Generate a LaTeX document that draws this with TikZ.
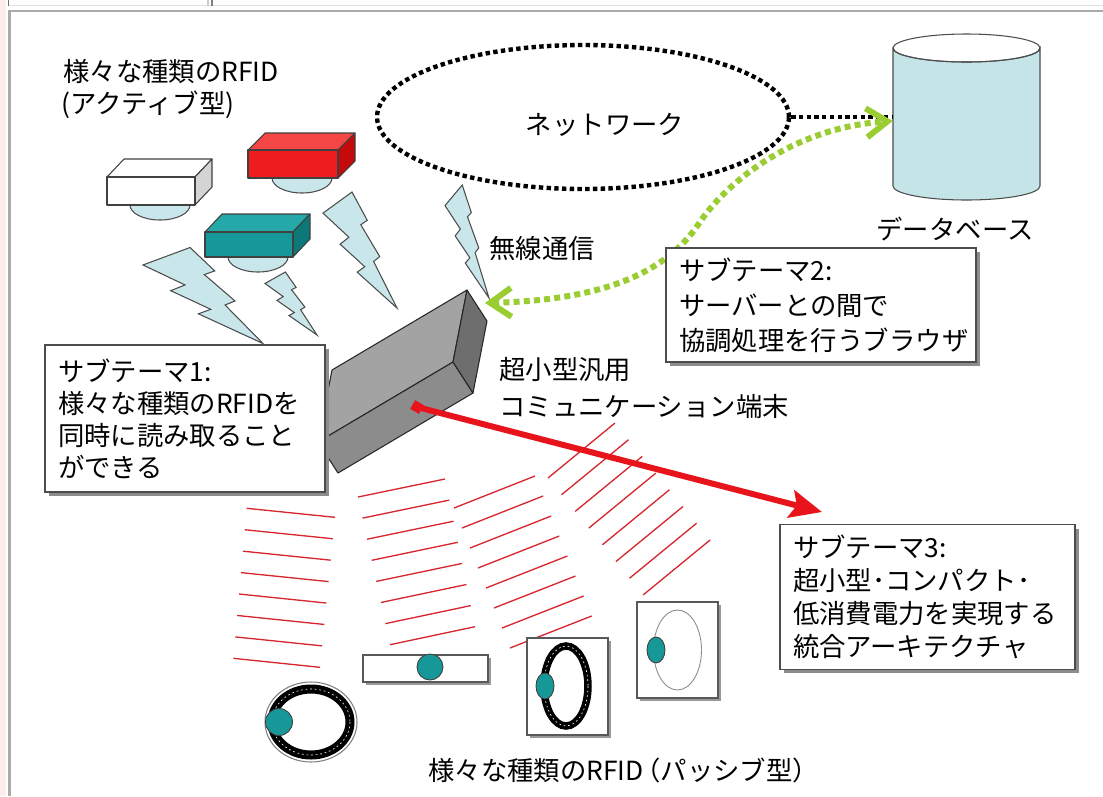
\documentclass[tikz,border=0pt]{standalone}
\usepackage{fontspec}
\newfontfamily\jpfont{Noto Sans CJK JP}
\usetikzlibrary{shapes.geometric,arrows.meta,shadows}

\definecolor{boltblue}{HTML}{C9E7EB}
\definecolor{tealc}{HTML}{179898}
\definecolor{tealtop}{HTML}{25A8A8}
\definecolor{tealside}{HTML}{0D7878}
\definecolor{redfront}{HTML}{EE1C1C}
\definecolor{redtop}{HTML}{F54646}
\definecolor{redside}{HTML}{C40A0A}
\definecolor{whiteside}{HTML}{D4D4D4}
\definecolor{gtop}{HTML}{A3A3A3}
\definecolor{gfront}{HTML}{8C8C8C}
\definecolor{gside}{HTML}{6E6E6E}
\definecolor{hatchred}{HTML}{D7262E}
\definecolor{arrowred}{HTML}{E8141C}
\definecolor{grn}{HTML}{9ACD32}
\definecolor{dbfill}{HTML}{C4E4E8}
\definecolor{framegray}{HTML}{ABABAB}
\definecolor{edgepink}{HTML}{FBEDEE}

% lightning bolt outline in a unit square (wide end top-left, tip bottom-right)
\newcommand{\boltpath}{(0.392,0) -- (0,0.182) -- (0.350,0.390) -- (0.231,0.450) -- (0.565,0.644) -- (0.462,0.691) -- (1,1) -- (0.684,0.599) -- (0.767,0.557) -- (0.511,0.282) -- (0.598,0.244) -- cycle}

\begin{document}
\begin{tikzpicture}[x=0.02cm,y=-0.02cm,
  every node/.style={font=\jpfont\fontsize{15pt}{18.2pt}\selectfont},
  lbl/.style={inner sep=0pt},
  tbox/.style={draw=black!70, fill=white, line width=0.7pt, align=left,
    inner xsep=0.26cm, inner ysep=0pt,
    drop shadow={shadow xshift=0.08cm, shadow yshift=-0.08cm, fill=black!45, opacity=1}},
  itembox/.style={draw=black!65, fill=white, line width=0.6pt, inner sep=0pt,
    drop shadow={shadow xshift=0.06cm, shadow yshift=-0.06cm, fill=black!40, opacity=1}},
  tealdot/.style={ellipse, draw=black!75, fill=tealc, line width=0.5pt, inner sep=0pt},
  bolt/.style={draw=black!70, fill=boltblue, line width=0.6pt, line join=miter},
  redhatch/.style={draw=hatchred, line width=0.75pt},
  blackdots/.style={draw=black, line width=2.5pt, dash pattern=on 2.5pt off 1.9pt},
  greendots/.style={draw=grn, line width=3.4pt, dash pattern=on 3.4pt off 2.4pt},
  coil/.style={draw=black, line width=0.18cm},
  coilgap/.style={draw=white, line width=0.35pt, dash pattern=on 1pt off 1.6pt},
  dome/.style={fill=boltblue, draw=black!70, line width=0.6pt},
  facet/.style={draw=black!75, line width=0.6pt, line join=round}]

\useasboundingbox (0,0) rectangle (1103,796);
\fill[white] (0,0) rectangle (1103,796);

% page frame
\fill[edgepink] (0,0) rectangle (6,796);
\draw[black!12, line width=0.8pt] (9,5.5) -- (1103,5.5);
\draw[black!55, line width=0.8pt] (8.5,0) -- (8.5,6);
\draw[black!20, line width=0.8pt] (208,0) -- (208,6);
\draw[black!50, line width=0.8pt] (212,0) -- (212,6);
\draw[framegray, line width=1.6pt] (1103,11) -- (9.5,11) -- (9.5,796);

% reader field lines
\foreach \i in {0,...,7} {
  \draw[redhatch] (246.7-1.9*\i, 508.3+21.43*\i) -- (335-2.14*\i, 517.3+21.43*\i);
  \draw[redhatch] (358+4.57*\i, 497+21.1*\i) -- (445+4.29*\i, 479+21.1*\i);
  \draw[redhatch] (454+8*\i, 508+20*\i) -- (535+8.1*\i, 476+20*\i);
  \draw[redhatch] (548+13.6*\i, 478+16.7*\i) -- (615+13.6*\i, 423+16.7*\i);
}

% passive tags
\draw[black!50, line width=0.6pt] (311,722) ellipse [x radius=46, y radius=40];
\draw[coil] (311,722) ellipse [x radius=39, y radius=33];
\draw[coilgap] (311,722) ellipse [x radius=39, y radius=33];
\node[tealdot, minimum width=0.54cm, minimum height=0.54cm] (p1dot) at (279,722) {};

\node[itembox, minimum width=2.5cm, minimum height=0.54cm] (p2) at (425.5,668.5) {};
\node[tealdot, minimum width=0.52cm, minimum height=0.52cm] (p2dot) at (430,667) {};

\node[itembox, minimum width=1.62cm, minimum height=1.94cm] (p3) at (567.5,686.5) {};
\draw[coil, line width=0.15cm] (566,686) ellipse [x radius=22, y radius=40];
\draw[coilgap] (566,686) ellipse [x radius=22, y radius=40];
\node[tealdot, minimum width=0.36cm, minimum height=0.52cm] (p3dot) at (545,686) {};

\node[itembox, minimum width=1.62cm, minimum height=1.92cm] (p4) at (677.5,650) {};
\draw[black!45, line width=0.5pt] (677.5,650) ellipse [x radius=24, y radius=40];
\node[tealdot, minimum width=0.36cm, minimum height=0.52cm] (p4dot) at (656,650) {};

% network
\node[ellipse, blackdots, minimum width=8.24cm, minimum height=2.88cm, inner sep=0pt] (net) at (583,117) {};
\node[lbl] (netlbl) at (605,125) {ネットワーク};

% database
\node[inner sep=0pt, minimum width=2.94cm, minimum height=3.4cm] (db) at (966.5,121) {};
\filldraw[fill=dbfill, draw=black!70, line width=0.6pt]
  (893,48) -- (893,186) arc[start angle=180, end angle=0, x radius=73.5, y radius=14]
  -- (1040,48) arc[start angle=0, end angle=180, x radius=73.5, y radius=14] -- cycle;
\draw[black!70, line width=0.6pt] (966.5,48) ellipse [x radius=73.5, y radius=14];
\node[lbl] (dblbl) at (955,229) {データベース};

% active tags
\filldraw[dome] (160,205) ellipse [x radius=30, y radius=15];
\filldraw[facet, fill=white] (107,177) -- (124,159) -- (212,159) -- (195,177) -- cycle;
\filldraw[facet, fill=whiteside] (195,177) -- (212,159) -- (212,187) -- (195,205) -- cycle;
\filldraw[facet, fill=white] (107,177) rectangle (195,205);

\filldraw[dome] (302,178) ellipse [x radius=30, y radius=15];
\filldraw[facet, fill=redtop] (248,150) -- (265,133) -- (355,133) -- (338,150) -- cycle;
\filldraw[facet, fill=redside] (338,150) -- (355,133) -- (355,161) -- (338,178) -- cycle;
\filldraw[facet, fill=redfront] (248,150) rectangle (338,178);

\filldraw[dome] (258,257) ellipse [x radius=30, y radius=15];
\filldraw[facet, fill=tealtop] (205,232) -- (222,214) -- (310,214) -- (293,232) -- cycle;
\filldraw[facet, fill=tealside] (293,232) -- (310,214) -- (310,239) -- (293,257) -- cycle;
\filldraw[facet, fill=tealc] (205,232) rectangle (293,257);

% radio links
\begin{scope}[shift={(143,247.5)}, x={(2.4cm,0cm)}, y={(0cm,-1.92cm)}]
  \draw[bolt] \boltpath;
\end{scope}
\begin{scope}[shift={(265,272)}, x={(1.04cm,0cm)}, y={(0cm,-1.26cm)}]
  \draw[bolt] \boltpath;
\end{scope}
\begin{scope}[shift={(323,192)}, x={(1.48cm,0cm)}, y={(0cm,-2.32cm)}]
  \draw[bolt] \boltpath;
\end{scope}
\begin{scope}[shift={(445,185)}, x={(0.88cm,0cm)}, y={(0cm,-2.26cm)}]
  \draw[bolt] \boltpath;
\end{scope}
\node[lbl] (wlbl) at (542,248) {無線通信};

% communication terminal
\filldraw[facet, draw=black!85, fill=gtop] (467,290) -- (453,362) -- (318,442) -- (332,370) -- cycle;
\filldraw[facet, draw=black!85, fill=gfront] (453,362) -- (473,393) -- (338,473) -- (318,442) -- cycle;
\filldraw[facet, draw=black!85, fill=gside] (467,290) -- (487,321) -- (473,393) -- (453,362) -- cycle;
\node[lbl, anchor=west, align=left, font=\jpfont\fontsize{15pt}{21.5pt}\selectfont] (termlbl) at (499,388) {超小型汎用\\コミュニケーション端末};

\coordinate (gtip) at (485,303);
\coordinate (rtip) at (822,512);

% network links
\draw[blackdots] (net.east) -- (net.east -| db.west);
\draw[greendots, {Straight Barb[length=0.42cm, width=0.58cm]}-{Straight Barb[length=0.42cm, width=0.58cm]}]
  (gtip) .. controls (600,300) and (665,275) .. (700,222)
  .. controls (725,185) and (790,128) .. (db.west);

% sub-theme boxes
\node[tbox, minimum width=5.6cm, minimum height=2.94cm, text width=5.08cm] (st1) at (185,418.5)
  {サブテーマ1:\\様々な種類のRFIDを\\同時に読み取ること\\ができる};
\node[tbox, minimum width=6.16cm, minimum height=2.28cm, text width=5.68cm,
  font=\jpfont\fontsize{15pt}{19.9pt}\selectfont] (st2) at (821,305)
  {サブテーマ2:\\サーバーとの間で\\協調処理を行うブラウザ};
\node[tbox, minimum width=5.9cm, minimum height=2.9cm, text width=5.38cm,
  font=\jpfont\fontsize{15pt}{18.8pt}\selectfont] (st3) at (927.5,597)
  {サブテーマ3:\\超小型･コンパクト･\\低消費電力を実現する\\統合アーキテクチャ};

% titles
\node[lbl, anchor=west] (ttl1) at (63,71) {様々な種類のRFID};
\node[lbl, anchor=west] (ttl2) at (61,105) {(アクティブ型)};
\node[lbl, anchor=west] (plbl) at (428,770) {様々な種類のRFID\kern-0.35em（パッシブ型）};

% integration arrow
\node[fill=arrowred, minimum size=0.2cm, inner sep=0pt, rotate=-30] (rdot) at (417,407) {};
\draw[arrowred, line width=3.4pt, -{Stealth[length=0.64cm, width=0.56cm, inset=0.12cm]}] (rdot.center) -- (rtip);

\end{tikzpicture}
\end{document}
